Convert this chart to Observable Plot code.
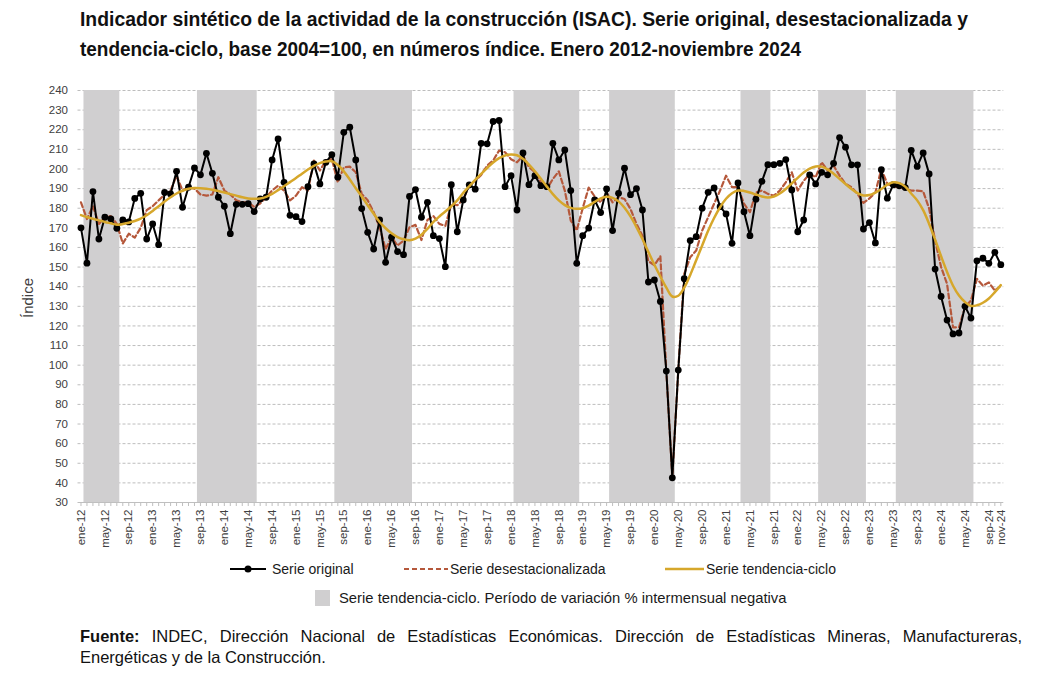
<!DOCTYPE html>
<html>
<head>
<meta charset="utf-8">
<script src="https://cdn.jsdelivr.net/npm/d3@7"></script>
<script src="https://cdn.jsdelivr.net/npm/@observablehq/plot@0.6"></script>
<style>
  html, body { margin: 0; padding: 0; background: #fff; }
  #wrap { position: relative; width: 1043px; height: 676px; overflow: hidden; font-family: "Liberation Sans", Arial, sans-serif; }
  #chart { position: absolute; left: 0; top: 75px; }
  #overlay { position: absolute; left: 0; top: 0; }
</style>
</head>
<body>
<div id="wrap">
  <div id="chart"></div>
  <svg id="overlay" width="1043" height="676"></svg>
</div>
<script>
// ---- Data (Enero 2012 - noviembre 2024, monthly) ----
const monthNames = ["ene","feb","mar","abr","may","jun","jul","ago","sep","oct","nov","dic"];

const serieOriginal = [
  170,152,188.5,164.3,175.4,174.5,169.8,174,173,185,187.6,164.3,
  172,161.4,188,187.3,198.8,180.5,190.7,200.5,197,208,197.8,185.6,
  181,167,182,182,182.3,178.3,184.7,185.6,204.6,215.3,193.2,176.4,
  175.7,173.2,191,202.6,192.4,203.4,207.3,195.8,218.7,221.3,204.6,179.8,
  167.7,159.2,174,152.4,165.2,157.9,156.3,186,189.5,175.4,183,166,
  164.5,150.2,192,168,184.2,191.9,189.7,213.1,212.8,224.2,224.7,191,
  196.6,179.1,208.2,192,196.6,191.5,191,213.1,204.6,209.7,189,151.9,
  166,169.9,184.2,177.8,189.8,168.6,187.6,200.4,186.9,190,179.1,142.4,
  143.4,132.5,97,42.6,97.5,144.1,163.5,165.5,180,188.1,190.3,180.8,
  177.1,162.1,192.9,178.2,166,184.6,193.7,202.2,202.2,202.9,204.8,189.3,
  168,174,197,192.4,198.3,197,202.9,216,211.1,202.1,202.1,169.4,
  172.7,162.3,199.6,185.1,192,191.4,190.5,209.5,201.3,208.2,197.5,149,
  135,123,115.9,116.4,130,124,153.2,154.5,151.9,157.5,151.2
];

const serieDesestacionalizada = [
  183,174.5,181,172,175.4,176,172,162,167,165,170,179,
  181,184,187,189,196.6,189,190.7,190,187,186.4,187,195.8,
  189,187,184,183,183,180.7,182.4,185.6,189,191.5,189,184,
  186.4,190.7,189,204.3,199.2,204.3,205.1,193.2,200.8,201.2,198.3,187.3,
  184,178,170.3,159.2,165.2,161,163.5,170.3,171.5,163.8,174,176,
  172,171,182,181.5,184.5,191.5,194,197,201.7,204.3,209.4,208.5,
  205,203.4,206.8,201,198.3,193.2,189.8,194.9,198.8,189,173.7,168.7,
  180,190.5,186,183,188,183,185.6,184.7,179.6,172,166,153,
  151,155.5,97,43,97.5,146.5,155,158.4,168.6,175.4,182.3,189,
  196.6,190.7,190.7,182.3,178,188,189,187.3,186.4,189,193.2,198.3,
  189,194,197.5,195.8,203.4,199.2,201.7,196.6,192.4,190.7,187.3,182.7,
  185,188,200,192.4,191,190.7,189.8,189,189,188.6,179.8,163.5,
  150,141.4,119.3,119.3,129.5,133,144,140.5,142.2,138,140.5
];

const serieTendencia = [
  176.5,175.5,174.6,173.8,173.0,172.3,171.6,171.9,172.6,173.5,174.7,176.4,
  178.6,181.0,183.4,185.6,187.5,188.9,189.9,190.3,190.2,189.9,189.4,188.8,
  188.0,187.2,186.4,185.6,185.0,184.8,185.0,185.8,187.3,189.2,191.2,193.3,
  195.4,197.6,199.7,201.6,203.0,203.8,203.9,202.0,198.8,194.6,190.2,186.0,
  181.5,177.2,173.0,169.8,167.2,165.3,164.2,163.7,164.5,166.5,169.5,173.0,
  175.8,178.3,181.0,184.0,187.8,191.2,194.5,197.5,200.5,203.3,205.5,206.9,
  207.4,207.0,205.2,202.2,198.8,195.0,191.0,187.2,184.0,181.6,180.2,179.7,
  180.0,181.3,183.2,185.0,185.8,185.3,183.5,180.2,175.8,170.4,164.3,157.7,
  151.2,145.2,139.5,135.0,135.4,139.5,146.0,153.5,161.0,168.5,175.0,180.5,
  184.8,187.6,189.0,188.8,188.0,187.0,186.0,185.5,186.0,187.5,189.8,192.6,
  195.5,198.2,200.2,201.3,201.2,199.8,197.6,195.0,192.3,189.8,187.7,186.5,
  186.7,188.0,189.8,192.0,193.2,192.8,191.0,187.5,184.0,179.0,172.0,164.0,
  155.5,147.5,140.5,135.5,132.2,130.2,130.5,131.8,134.0,137.2,140.8
];

// Periods of negative month-on-month change of the trend-cycle (first, last month index)
const periodosNegativos = [[1,6],[20,29],[43,55],[73,83],[89,99],[111,115],[124,131],[137,149]];

const yTicks = [30,40,50,60,70,80,90,100,110,120,130,140,150,160,170,180,190,200,210,220,230,240];

const xTickLabels = ["ene-12","may-12","sep-12","ene-13","may-13","sep-13","ene-14","may-14","sep-14",
  "ene-15","may-15","sep-15","ene-16","may-16","sep-16","ene-17","may-17","sep-17","ene-18","may-18","sep-18",
  "ene-19","may-19","sep-19","ene-20","may-20","sep-20","ene-21","may-21","sep-21","ene-22","may-22","sep-22",
  "ene-23","may-23","sep-23","ene-24","may-24","sep-24","nov-24"];

// ---- Build table ----
const rows = serieOriginal.map((v, i) => ({
  i, orig: v, sa: serieDesestacionalizada[i], tc: serieTendencia[i]
}));
const labelIndex = s => { const [m, y] = s.split("-"); return (+y - 12) * 12 + monthNames.indexOf(m); };
const labelMap = new Map(xTickLabels.map(s => [labelIndex(s), s]));
const allMonths = rows.map(d => d.i);

const C_ORIG = "#000000", C_SA = "#b5583b", C_TC = "#d6a72b", C_BAND = "#d0cfd0";

const chart = Plot.plot({
  width: 1043,
  height: 480,
  marginLeft: 77.5,
  marginRight: 39.7,
  marginTop: 15,
  marginBottom: 53,
  x: { domain: [-0.5, 154.5], axis: null, label: null },
  y: { domain: [30, 240], axis: null, label: null },
  style: { fontFamily: "'Liberation Sans', Arial, sans-serif", fontSize: "11.5px", color: "#404040", background: "transparent", overflow: "visible" },
  marks: [
    Plot.ruleY(yTicks.slice(1), { stroke: "#bdbdbd", strokeWidth: 1, strokeDasharray: "3,2" }),
    Plot.rect(periodosNegativos, { x1: d => d[0] - 0.5, x2: d => d[1] + 0.5, y1: 30, y2: 240, fill: C_BAND }),
    Plot.ruleY([30], { stroke: "#bfbfbf", strokeWidth: 1 }),
    Plot.axisX(allMonths, { tickSize: 4, tickFormat: () => "", stroke: "#bfbfbf", label: null }),
    Plot.axisX([...labelMap.keys()], { tickSize: 0, tickPadding: 7, tickRotate: -90, tickFormat: i => labelMap.get(i), fill: "#404040", fontSize: 11.5, label: null }),
    Plot.axisY(yTicks, { tickSize: 0, tickPadding: 10, fill: "#404040", fontSize: 11.5, label: null }),
    Plot.line(rows, { x: "i", y: "sa", stroke: C_SA, strokeWidth: 2.2, strokeDasharray: "5,3" }),
    Plot.line(rows, { x: "i", y: "orig", stroke: C_ORIG, strokeWidth: 2 }),
    Plot.dot(rows, { x: "i", y: "orig", r: 3.4, fill: C_ORIG }),
    Plot.line(rows, { x: "i", y: "tc", stroke: C_TC, strokeWidth: 2.5, curve: "catmull-rom" })
  ]
});
document.getElementById("chart").appendChild(chart);

// ---- Title, axis label, legend, source ----
const ov = d3.select("#overlay");
const titleFont = "'Liberation Sans Narrow', 'Arial Narrow', 'Liberation Sans', Arial, sans-serif";
ov.append("text").attr("x", 80).attr("y", 26)
  .attr("textLength", 888).attr("lengthAdjust", "spacingAndGlyphs")
  .attr("font-family", titleFont).attr("font-weight", "bold").attr("font-size", 20).attr("fill", "#111")
  .text("Indicador sintético de la actividad de la construcción (ISAC). Serie original, desestacionalizada y");
ov.append("text").attr("x", 80).attr("y", 56)
  .attr("textLength", 721).attr("lengthAdjust", "spacingAndGlyphs")
  .attr("font-family", titleFont).attr("font-weight", "bold").attr("font-size", 20).attr("fill", "#111")
  .text("tendencia-ciclo, base 2004=100, en números índice. Enero 2012-noviembre 2024");

ov.append("text").attr("transform", "translate(33,298) rotate(-90)")
  .attr("text-anchor", "middle").attr("font-size", 15).attr("fill", "#404040")
  .attr("font-family", "'Liberation Sans', Arial, sans-serif").text("Índice");

const lg = ov.append("g").attr("font-family", "'Liberation Sans', Arial, sans-serif").attr("font-size", 14).attr("fill", "#1a1a1a");
lg.append("line").attr("x1", 230).attr("x2", 266).attr("y1", 569).attr("y2", 569).attr("stroke", C_ORIG).attr("stroke-width", 2);
lg.append("circle").attr("cx", 248).attr("cy", 569).attr("r", 3.5).attr("fill", C_ORIG);
lg.append("text").attr("x", 272).attr("y", 574).text("Serie original");
lg.append("line").attr("x1", 404).attr("x2", 448).attr("y1", 569).attr("y2", 569).attr("stroke", C_SA).attr("stroke-width", 2.2).attr("stroke-dasharray", "5,3");
lg.append("text").attr("x", 450).attr("y", 574).text("Serie desestacionalizada");
lg.append("line").attr("x1", 665).attr("x2", 704).attr("y1", 569).attr("y2", 569).attr("stroke", C_TC).attr("stroke-width", 2.5);
lg.append("text").attr("x", 706).attr("y", 574).text("Serie tendencia-ciclo");
lg.append("rect").attr("x", 315).attr("y", 590).attr("width", 15).attr("height", 16).attr("fill", C_BAND);
lg.append("text").attr("x", 339).attr("y", 603).attr("font-size", 14.8).text("Serie tendencia-ciclo. Período de variación % intermensual negativa");

const ft = ov.append("g").attr("font-family", "'Liberation Sans', Arial, sans-serif").attr("font-size", 16.5).attr("fill", "#111");
const l1 = ft.append("text").attr("x", 80).attr("y", 642);
l1.append("tspan").attr("font-weight", "bold").text("Fuente:");
l1.append("tspan").text(" INDEC, Dirección Nacional de Estadísticas Económicas. Dirección de Estadísticas Mineras, Manufactureras,");
// justify the first line by spreading the word gaps
const natural = l1.node().getComputedTextLength();
const nSpaces = (l1.text().match(/ /g) || []).length;
l1.attr("word-spacing", ((942 - natural) / nSpaces).toFixed(2));
ft.append("text").attr("x", 80).attr("y", 663).text("Energéticas y de la Construcción.");
</script>
</body>
</html>
